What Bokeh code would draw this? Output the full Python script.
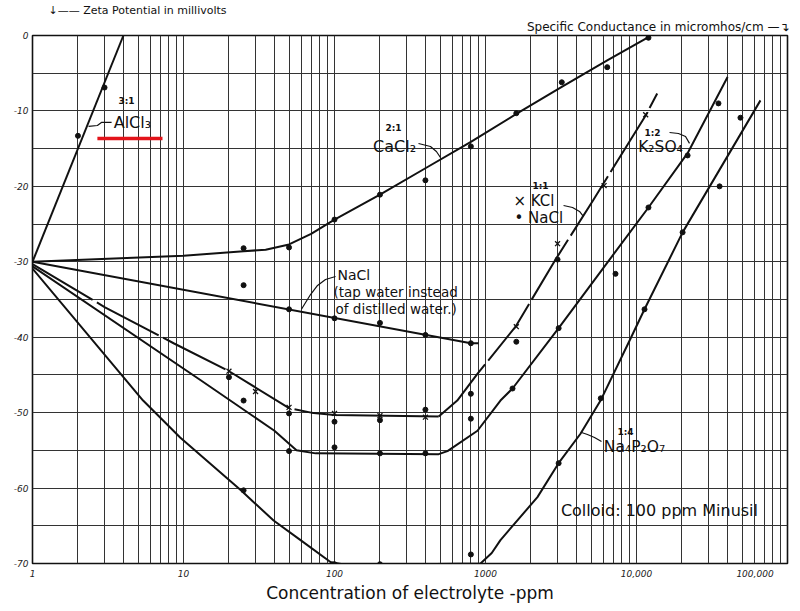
from bokeh.plotting import figure
from bokeh.models import FixedTicker, Label, Title
from bokeh.embed import file_html
from bokeh.resources import INLINE

FONT = "DejaVu Sans"

# ---------------- data (concentration ppm, zeta potential mV) ----------------
alcl3_line_x = [1, 4.0]
alcl3_line_y = [-30, 0]
alcl3_pts_x = [2, 3]
alcl3_pts_y = [-13.3, -6.9]

cacl2_line_x = [1, 10, 25, 35, 50, 70, 100, 200, 400, 800, 1600, 3200, 6400, 12000]
cacl2_line_y = [-30, -29.2, -28.6, -28.4, -27.7, -26.3, -24.4, -21.1, -17.6, -14.1, -10.4, -6.8, -3.3, -0.2]
cacl2_pts_x = [25, 50, 100, 200, 400, 800, 1600, 3200, 6400, 12000]
cacl2_pts_y = [-28.2, -28.1, -24.4, -21.1, -19.2, -14.7, -10.3, -6.2, -4.2, -0.3]

tap_line_x = [1, 800, 900]
tap_line_y = [-30, -40.8, -40.8]
tap_pts_x = [25, 50, 100, 200, 400, 800]
tap_pts_y = [-33.1, -36.3, -37.5, -38.1, -39.7, -40.8]

kcl_line_x = [1, 3, 8.6, 20, 50, 70, 100, 490, 650, 881, 1581, 2911, 5140, 11500, 13710]
kcl_line_y = [-30.3, -36.0, -40.8, -44.5, -49.4, -50.0, -50.3, -50.5, -48.4, -44.9, -38.6, -29.7, -21.9, -10.6, -7.7]
kcl_pts_x = [20, 30, 50, 100, 200, 400, 1600, 3000, 6100, 11500]
kcl_pts_y = [-44.5, -47.2, -49.3, -50.1, -50.4, -50.6, -38.6, -27.6, -19.9, -10.5]
nacl_pts_x = [20, 50, 100, 200, 400, 800, 1600, 3000]
nacl_pts_y = [-45.3, -50.1, -51.2, -51.0, -49.6, -47.5, -40.6, -29.7]

k2so4_line_x = [1, 13, 40, 56, 75, 490, 560, 885, 1256, 1510, 3050, 6040, 12000, 21800, 40100]
k2so4_line_y = [-30.6, -45.7, -52.4, -55.0, -55.4, -55.5, -55.1, -52.4, -48.4, -46.8, -38.8, -30.8, -22.8, -15.6, -5.5]
k2so4_pts_x = [25, 50, 100, 200, 400, 800, 1510, 3050, 7260, 12000, 21800, 34900]
k2so4_pts_y = [-48.4, -55.1, -54.6, -55.4, -55.4, -50.8, -46.8, -38.8, -31.6, -22.8, -15.9, -9.0]

na4_line_x = [1, 5.4, 9.5, 24, 39.5, 59.6, 94, 120, 927, 1100, 1256, 2208, 3048, 4256, 5780, 9120, 11300, 20200, 66200]
na4_line_y = [-30.9, -48.4, -53.3, -60.3, -64.3, -66.9, -69.8, -70.2, -70.0, -68.6, -66.9, -61.2, -56.7, -52.8, -48.4, -40.2, -36.3, -26.1, -8.6]
na4_pts_x = [25, 100, 200, 400, 800, 3050, 5800, 11300, 20200, 35500, 48800]
na4_pts_y = [-60.3, -70.1, -70.1, -70.3, -68.8, -56.7, -48.1, -36.3, -26.1, -20.0, -10.9]

x_major = [1, 10, 100, 1000, 10000, 100000]
x_labels = ["1", "10", "100", "1000", "10,000", "100,000" + "\u00a0" * 8]
x_minor = [m * 10 ** k for k in range(5) for m in range(2, 10)]
y_major = [-70, -60, -50, -40, -30, -20, -10, 0]
y_minor = [-65, -55, -45, -35, -25, -15, -5]

# ---------------- figure ----------------
p = figure(width=796, height=605, x_axis_type="log", x_range=(1, 100000), y_range=(-70, 0),
           output_backend="svg", toolbar_location=None, title=None,
           min_border_left=32, min_border_right=9, min_border_top=35, min_border_bottom=42)
p.background_fill_color = "white"
p.border_fill_color = "white"
p.outline_line_color = "#111111"
p.outline_line_width = 1.6

p.xaxis.ticker = FixedTicker(ticks=x_major, minor_ticks=x_minor)
p.yaxis.ticker = FixedTicker(ticks=y_major, minor_ticks=y_minor)
p.xaxis.major_label_overrides = {t: s for t, s in zip(x_major, x_labels)}
p.yaxis.major_label_overrides = {t: str(t) for t in y_major}
for ax in (p.xaxis, p.yaxis):
    ax.axis_line_color = None
    ax.major_tick_line_color = None
    ax.minor_tick_line_color = None
    ax.major_tick_out = 0
    ax.major_tick_in = 0
    ax.minor_tick_out = 0
    ax.minor_tick_in = 0
    ax.major_label_text_font = FONT
    ax.major_label_text_font_style = "italic"
    ax.major_label_text_font_size = "9px"
    ax.major_label_text_color = "#222222"
p.xaxis.major_label_standoff = 5
p.yaxis.major_label_standoff = 4
p.xaxis.axis_label = "Concentration of electrolyte -ppm"
p.xaxis.axis_label_text_font = FONT
p.xaxis.axis_label_text_font_style = "normal"
p.xaxis.axis_label_text_font_size = "17px"
p.xaxis.axis_label_text_color = "#111111"
p.xaxis.axis_label_standoff = 1

for g in (p.xgrid, p.ygrid):
    g.grid_line_color = "#333333"
    g.grid_line_width = 1
    g.grid_line_alpha = 1
    g.minor_grid_line_color = "#333333"
    g.minor_grid_line_width = 1

LC = "#111111"
LW = 2

# curves
p.line(alcl3_line_x, alcl3_line_y, line_color=LC, line_width=LW)
p.line(cacl2_line_x, cacl2_line_y, line_color=LC, line_width=LW)
p.line(tap_line_x, tap_line_y, line_color=LC, line_width=LW)
p.line(kcl_line_x[:6], kcl_line_y[:6], line_color=LC, line_width=LW, line_dash="70 5")
p.line(kcl_line_x[5:8], kcl_line_y[5:8], line_color=LC, line_width=LW)
p.line(kcl_line_x[7:], kcl_line_y[7:], line_color=LC, line_width=LW, line_dash="70 5")
p.line(k2so4_line_x, k2so4_line_y, line_color=LC, line_width=LW)
p.line(na4_line_x, na4_line_y, line_color=LC, line_width=LW)

# points
for xs, ys in [(alcl3_pts_x, alcl3_pts_y), (cacl2_pts_x, cacl2_pts_y), (tap_pts_x, tap_pts_y),
               (nacl_pts_x, nacl_pts_y), (k2so4_pts_x, k2so4_pts_y), (na4_pts_x, na4_pts_y)]:
    p.scatter(xs, ys, marker="circle", size=5, color=LC)
p.scatter(kcl_pts_x, kcl_pts_y, marker="x", size=7, line_color=LC, line_width=1.3)

# leaders
p.line([3.34, 2.86, 2.69, 2.35], [-11.53, -11.53, -11.93, -12.06], line_color=LC, line_width=1.2)
p.line([360, 432, 473, 503], [-14.32, -14.72, -15.38, -16.17], line_color=LC, line_width=1.2)
p.line([101.6, 87.2, 77.2, 69.4, 60.4], [-31.95, -32.35, -33.14, -34.34, -36.3], line_color=LC, line_width=1.2)
p.line([3288, 3770, 4195, 4457], [-22.54, -22.8, -23.33, -24.0], line_color=LC, line_width=1.2)
p.line([16550, 18970, 21120, 22440], [-12.86, -12.99, -13.39, -14.3], line_color=LC, line_width=1.2)
p.line([5865, 5272, 4735, 4325], [-53.83, -53.3, -52.9, -52.63], line_color=LC, line_width=1.2)

# red underline under AlCl3
p.line([2.69, 7.26], [-13.65, -13.65], line_color="#e3141b", line_width=3.5)


def lab(x, y, text, size="15px", align="center", style="normal", **kw):
    p.add_layout(Label(x=x, y=y, text=text, text_font=FONT, text_font_size=size,
                       text_align=align, text_baseline="middle", text_color=LC,
                       text_font_style=style, **kw))


lab(4.19, -8.62, "3:1", "9px", style="bold")
lab(4.59, -11.53, "AlCl\u2083", "16px")
lab(246, -12.2, "2:1", "9px", style="bold")
lab(250, -14.7, "CaCl\u2082", "16px")
lab(104.7, -31.8, "NaCl", "14px", "left")
lab(98.5, -34.07, "(tap water instead", "13.5px", "left")
lab(101.6, -36.3, "of distilled water.)", "13.5px", "left")
lab(2313, -19.9, "1:1", "9px", style="bold")
lab(1532, -22.0, "\u00d7 KCl", "15px", "left")
lab(1556, -24.13, "\u2022 NaCl", "15px", "left")
lab(12770, -12.86, "1:2", "9px", style="bold")
lab(14420, -14.72, "K\u2082SO\u2084", "15.5px")
lab(8455, -52.63, "1:4", "9px", style="bold")
lab(9700, -54.5, "Na\u2084P\u2082O\u2087", "15.5px")
lab(14190, -62.97, "Colloid: 100 ppm Minusil", "16px")

# axis titles at the top (layout panels), with their corner arrows as characters
p.add_layout(Title(text="Specific Conductance in micromhos/cm \u2014\u21b4", align="right", offset=-2,
                   text_font=FONT, text_font_size="12px", text_font_style="normal",
                   text_color=LC, standoff=2, vertical_align="middle"), "above")
p.add_layout(Title(text="\u2193\u2014\u2014 Zeta Potential in millivolts", align="left", offset=16,
                   text_font=FONT, text_font_size="11px", text_font_style="normal",
                   text_color=LC, standoff=0, vertical_align="middle"), "above")

open("out.html", "w").write(file_html(p, INLINE))
